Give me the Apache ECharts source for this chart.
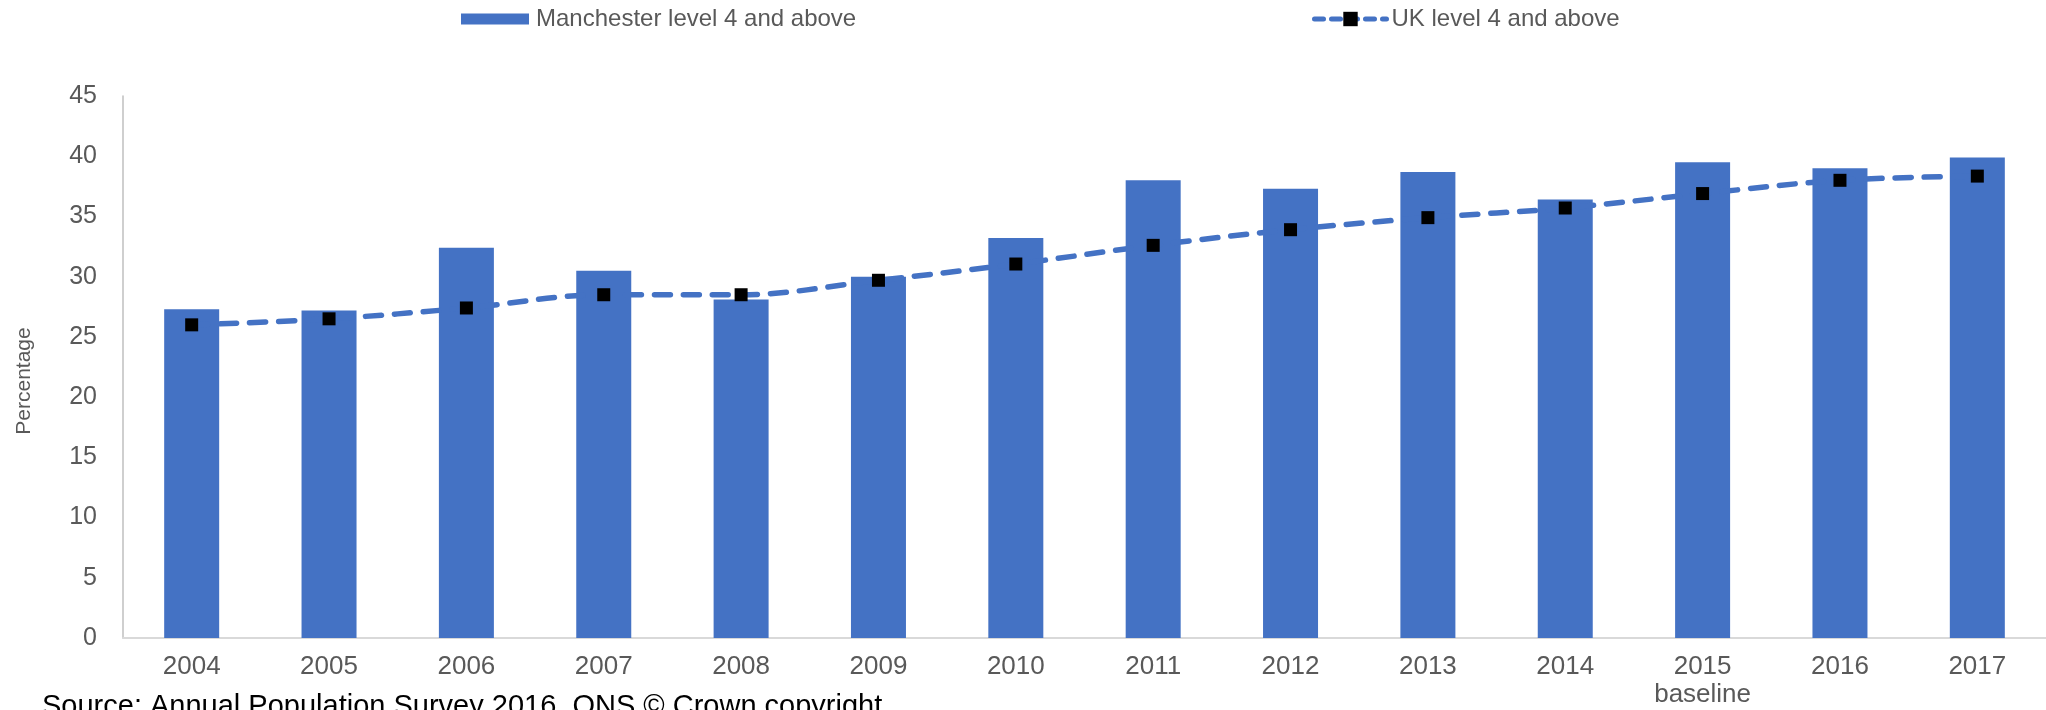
<!DOCTYPE html>
<html>
<head>
<meta charset="utf-8">
<script src="https://cdn.jsdelivr.net/npm/echarts@6/dist/echarts.min.js"></script>
<style>
html,body{margin:0;padding:0;background:#fff;}
#chart{width:2046px;height:710px;}
</style>
</head>
<body>
<div id="chart"></div>
<script>
const years = ['2004','2005','2006','2007','2008','2009','2010','2011','2012','2013','2014','2015','2016','2017'];
const yearLabels = ['2004','2005','2006','2007','2008','2009','2010','2011','2012','2013','2014','2015\nbaseline','2016','2017'];
const manchester = [27.3, 27.2, 32.4, 30.5, 28.1, 30.0, 33.2, 38.0, 37.3, 38.7, 36.4, 39.5, 39.0, 39.9];
const uk = [26.0, 26.5, 27.4, 28.5, 28.5, 29.7, 31.05, 32.6, 33.9, 34.9, 35.7, 36.9, 38.0, 38.35];
const seriesNames = ['Manchester level 4 and above', 'UK level 4 and above'];
const yTicks = { min: 0, max: 45, interval: 5 };
const axisName = 'Percentage';
const sourceText = 'Source: Annual Population Survey 2016, ONS \u00A9 Crown copyright';

const FONT = "'Liberation Sans', Arial, sans-serif";
const BLUE = '#4472C4';
const TXT = '#595959';

const chart = echarts.init(document.getElementById('chart'), null, {renderer: 'canvas'});
chart.setOption({
  animation: false,
  backgroundColor: '#ffffff',
  textStyle: { fontFamily: FONT },
  legend: [
    {
      data: [seriesNames[0]],
      left: 461, top: 7, padding: 0,
      itemWidth: 68, itemHeight: 11,
      icon: 'rect',
      textStyle: { fontSize: 24, color: TXT, fontFamily: FONT, padding: [0,0,0,2] }
    },
    {
      data: [seriesNames[1]],
      left: 1312, top: 7, padding: 0,
      itemWidth: 72, itemHeight: 18,
      lineStyle: { color: BLUE, width: 5, type: [9, 8], cap: 'round' },
      textStyle: { fontSize: 24, color: TXT, fontFamily: FONT }
    }
  ],
  grid: { left: 123, top: 96, width: 1932, height: 542, containLabel: false },
  xAxis: {
    type: 'category',
    data: yearLabels,
    axisLine: { show: true, lineStyle: { color: '#d9d9d9', width: 2 } },
    axisTick: { show: false },
    axisLabel: { color: TXT, fontSize: 26, fontFamily: FONT, margin: 15, lineHeight: 28, interval: 0 }
  },
  yAxis: {
    type: 'value',
    min: yTicks.min, max: yTicks.max, interval: yTicks.interval,
    axisLine: { show: true, lineStyle: { color: '#bfbfbf', width: 1.5 } },
    axisTick: { show: false },
    splitLine: { show: false },
    axisLabel: { color: TXT, fontSize: 25, fontFamily: FONT, margin: 26 }
  },
  series: [
    {
      name: seriesNames[0],
      type: 'bar',
      data: manchester,
      barWidth: 55,
      itemStyle: { color: BLUE }
    },
    {
      name: seriesNames[1],
      type: 'line',
      data: uk,
      smooth: 0.35,
      symbol: 'rect',
      symbolSize: 13,
      itemStyle: { color: '#000000' },
      lineStyle: { color: BLUE, width: 5.5, type: [16, 13], cap: 'round' },
      z: 3
    }
  ],
  graphic: [
    {
      type: 'text',
      x: 24, y: 381, rotation: Math.PI / 2,
      style: { text: axisName, fontSize: 21, fill: TXT, fontFamily: FONT, align: 'center', verticalAlign: 'middle' }
    },
    {
      type: 'text',
      left: 42, top: 692,
      style: { text: sourceText, fontSize: 29, fill: '#000000', fontFamily: FONT }
    }
  ]
});
</script>
</body>
</html>
